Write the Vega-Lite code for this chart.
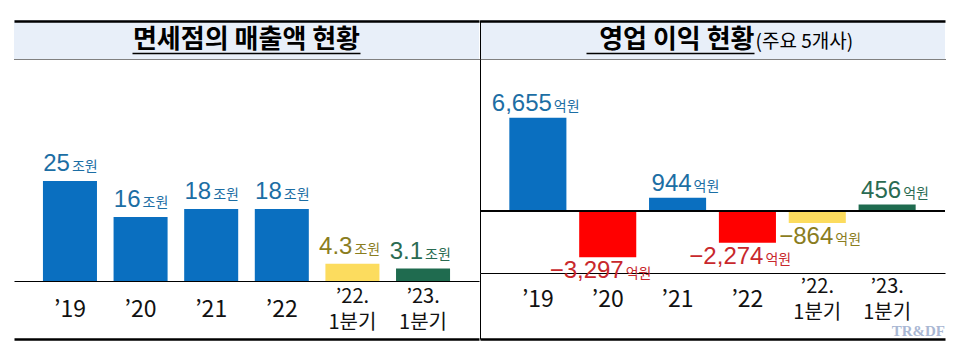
{
  "$schema": "https://vega.github.io/schema/vega-lite/v6.json",
  "background": "white",
  "padding": {"left": 14, "top": 20, "right": 13, "bottom": 14},
  "datasets": {
    "sales": [
      {"p": "’19", "v": 25, "s": "연간"},
      {"p": "’20", "v": 16, "s": "연간"},
      {"p": "’21", "v": 18, "s": "연간"},
      {"p": "’22", "v": 18, "s": "연간"},
      {"p": "’22.\n1분기", "v": 4.3, "s": "22년1분기"},
      {"p": "’23.\n1분기", "v": 3.1, "s": "23년1분기"}
    ],
    "profit": [
      {"p": "’19", "v": 6655, "s": "연간"},
      {"p": "’20", "v": -3297, "s": "연간"},
      {"p": "’21", "v": 944, "s": "연간"},
      {"p": "’22", "v": -2274, "s": "연간"},
      {"p": "’22.\n1분기", "v": -864, "s": "22년1분기"},
      {"p": "’23.\n1분기", "v": 456, "s": "23년1분기"}
    ]
  },
  "spacing": 0,
  "hconcat": [
    {
      "spacing": 0,
      "bounds": "flush",
      "vconcat": [
        {
          "width": 465,
          "height": 39,
          "view": {"fill": "#e8eff9", "stroke": null},
          "data": {"values": [{"t": "면세점의 매출액 현황"}]},
          "encoding": {
            "x": {"field": "t", "type": "nominal", "axis": {"orient": "top", "title": null, "labels": false, "ticks": false, "domainColor": "#000000", "domainWidth": 2.5, "offset": -1}},
            "y": {"field": "t", "type": "nominal", "axis": null}
          },
          "layer": [
            {"mark": {"type": "text", "font": "Noto Sans CJK KR", "fontWeight": "bold", "fontSize": 26, "color": "#000000", "baseline": "middle"}, "encoding": {"text": {"field": "t"}}},
            {"mark": {"type": "rule", "color": "#000000", "strokeWidth": 1.5, "xOffset": -114, "x2Offset": 114, "yOffset": 14}, "encoding": {"x2": {"field": "t"}}}
          ]
        },
        {
          "width": 465,
          "height": 222,
          "data": {"name": "sales"},
          "encoding": {
            "y": {"field": "v", "type": "quantitative", "scale": {"domain": [0, 55.5], "nice": false, "zero": false}, "axis": null}
          },
          "layer": [
            {
              "mark": {"type": "bar"},
              "encoding": {
                "x": {"field": "p", "type": "nominal", "sort": null, "scale": {"type": "band", "domain": ["’19", "’20", "’21", "’22", "’22.\n1분기", "’23.\n1분기"], "paddingInner": 0.235, "paddingOuter": 0.41}, "axis": {"orient": "top", "title": null, "labels": false, "ticks": false, "domainColor": "#000000", "domainWidth": 1, "domainDash": [1, 1]}},
                "color": {"field": "s", "type": "nominal", "scale": {"domain": ["연간", "22년1분기", "23년1분기"], "range": ["#0a6fc0", "#fcdc5e", "#1f6b4f"]}, "legend": null, "condition": {"test": "datum.v < 0 && datum.s === '연간'", "value": "#ff0000"}}
              }
            },
            {
              "mark": {"type": "text", "font": "Liberation Sans", "fontSize": 24, "align": "right", "baseline": "alphabetic", "dx": 0, "dy": -10},
              "encoding": {
                "x": {"field": "p", "type": "nominal", "sort": null, "scale": {"type": "band", "domain": ["’19", "’20", "’21", "’22", "’22.\n1분기", "’23.\n1분기"], "paddingInner": 0.235, "paddingOuter": 0.41}, "axis": {"orient": "bottom", "title": null, "labels": false, "ticks": false, "domainColor": "#000000", "domainWidth": 1.2}},
                "text": {"field": "v", "type": "quantitative", "format": ".2~f"},
                "color": {"condition": [{"test": "datum.s === '22년1분기'", "value": "#8a7d1e"}, {"test": "datum.s === '23년1분기'", "value": "#2a6b52"}, {"test": "datum.v < 0", "value": "#c8282c"}], "value": "#1c6ea4"}
              }
            },
            {
              "mark": {"type": "text", "text": "조원", "font": "Noto Sans CJK KR", "fontSize": 14, "align": "left", "baseline": "alphabetic", "dx": 2, "dy": -10},
              "encoding": {
                "x": {"field": "p", "type": "nominal", "sort": null, "scale": {"type": "band", "domain": ["’19", "’20", "’21", "’22", "’22.\n1분기", "’23.\n1분기"], "paddingInner": 0.235, "paddingOuter": 0.41}, "axis": null},
                "color": {"condition": [{"test": "datum.s === '22년1분기'", "value": "#8a7d1e"}, {"test": "datum.s === '23년1분기'", "value": "#2a6b52"}, {"test": "datum.v < 0", "value": "#c8282c"}], "value": "#1c6ea4"}
              }
            }
          ],
          "resolve": {"axis": {"x": "independent"}}
        },
        {
          "width": 465,
          "height": 58,
          "data": {"name": "sales"},
          "encoding": {
            "x": {"field": "p", "type": "nominal", "sort": null, "scale": {"type": "band", "domain": ["’19", "’20", "’21", "’22", "’22.\n1분기", "’23.\n1분기"], "paddingInner": 0.235, "paddingOuter": 0.41}, "axis": {"orient": "bottom", "title": null, "labels": false, "ticks": false, "domainColor": "#000000", "domainWidth": 2.5}},
            "text": {"field": "p"}
          },
          "layer": [
            {
              "transform": [{"filter": "indexof(datum.p, '\\n') < 0"}],
              "mark": {"type": "text", "font": "Liberation Sans Narrow, Noto Sans CJK KR", "fontSize": 23, "baseline": "middle", "color": "#111111"}
            },
            {
              "transform": [{"filter": "indexof(datum.p, '\\n') >= 0"}],
              "mark": {"type": "text", "font": "Liberation Sans Narrow, Noto Sans CJK KR", "fontSize": 20, "lineBreak": "\n", "lineHeight": 26, "baseline": "middle", "dy": -13, "color": "#111111"}
            }
          ]
        }
      ]
    },
    {
      "spacing": 0,
      "bounds": "flush",
      "vconcat": [
        {
          "width": 465,
          "height": 39,
          "view": {"fill": "#e8eff9", "stroke": null},
          "data": {"values": [{"t": "영업 이익 현황", "sub": "(주요 5개사)"}]},
          "encoding": {
            "x": {"field": "t", "type": "nominal", "axis": {"orient": "top", "title": null, "labels": false, "ticks": false, "domainColor": "#000000", "domainWidth": 2.5, "offset": -1}},
            "y": {"field": "t", "type": "nominal", "axis": {"orient": "left", "title": null, "labels": false, "ticks": false, "domainColor": "#000000", "domainWidth": 1}}
          },
          "layer": [
            {"mark": {"type": "text", "font": "Noto Sans CJK KR", "fontWeight": "bold", "fontSize": 26, "color": "#000000", "align": "right", "dx": 42, "baseline": "middle"}, "encoding": {"text": {"field": "t"}}},
            {"mark": {"type": "text", "font": "Noto Sans CJK KR", "fontSize": 19, "color": "#000000", "align": "left", "dx": 43, "dy": 2, "baseline": "middle"}, "encoding": {"text": {"field": "sub"}}},
            {"mark": {"type": "rule", "color": "#000000", "strokeWidth": 1.5, "xOffset": -126, "x2Offset": 42, "yOffset": 14}, "encoding": {"x2": {"field": "t"}}}
          ]
        },
        {
          "width": 465,
          "height": 214,
          "data": {"name": "profit"},
          "encoding": {
            "y": {"field": "v", "type": "quantitative", "scale": {"domain": [-4429, 10857], "nice": false, "zero": false}, "axis": {"orient": "left", "title": null, "labels": false, "ticks": false, "grid": false, "domainColor": "#000000", "domainWidth": 1}}
          },
          "layer": [
            {
              "mark": {"type": "bar"},
              "encoding": {
                "x": {"field": "p", "type": "nominal", "sort": null, "scale": {"type": "band", "domain": ["’19", "’20", "’21", "’22", "’22.\n1분기", "’23.\n1분기"], "paddingInner": 0.183, "paddingOuter": 0.42}, "axis": {"orient": "top", "title": null, "labels": false, "ticks": false, "domainColor": "#000000", "domainWidth": 1, "domainDash": [1, 1]}},
                "color": {"field": "s", "type": "nominal", "scale": {"domain": ["연간", "22년1분기", "23년1분기"], "range": ["#0a6fc0", "#fcdc5e", "#1f6b4f"]}, "legend": null, "condition": {"test": "datum.v < 0 && datum.s === '연간'", "value": "#ff0000"}}
              }
            },
            {
              "mark": {"type": "rule", "color": "#000000", "strokeWidth": 1.2},
              "encoding": {"y": {"datum": 0}}
            },
            {
              "transform": [{"filter": "datum.v >= 0"}],
              "mark": {"type": "text", "font": "Liberation Sans", "fontSize": 24, "align": "right", "baseline": "alphabetic", "dx": 14, "dy": -7},
              "encoding": {
                "x": {"field": "p", "type": "nominal", "sort": null, "scale": {"type": "band", "domain": ["’19", "’20", "’21", "’22", "’22.\n1분기", "’23.\n1분기"], "paddingInner": 0.183, "paddingOuter": 0.42}, "axis": {"orient": "bottom", "title": null, "labels": false, "ticks": false, "domainColor": "#000000", "domainWidth": 1.2}},
                "text": {"field": "v", "type": "quantitative", "format": ","},
                "color": {"condition": [{"test": "datum.s === '22년1분기'", "value": "#8a7d1e"}, {"test": "datum.s === '23년1분기'", "value": "#2a6b52"}, {"test": "datum.v < 0", "value": "#c8282c"}], "value": "#1c6ea4"}
              }
            },
            {
              "transform": [{"filter": "datum.v >= 0"}],
              "mark": {"type": "text", "text": "억원", "font": "Noto Sans CJK KR", "fontSize": 14, "align": "left", "baseline": "alphabetic", "dx": 16, "dy": -7},
              "encoding": {
                "x": {"field": "p", "type": "nominal", "sort": null, "scale": {"type": "band", "domain": ["’19", "’20", "’21", "’22", "’22.\n1분기", "’23.\n1분기"], "paddingInner": 0.183, "paddingOuter": 0.42}, "axis": null},
                "color": {"condition": [{"test": "datum.s === '22년1분기'", "value": "#8a7d1e"}, {"test": "datum.s === '23년1분기'", "value": "#2a6b52"}, {"test": "datum.v < 0", "value": "#c8282c"}], "value": "#1c6ea4"}
              }
            },
            {
              "transform": [{"filter": "datum.v < 0"}],
              "mark": {"type": "text", "font": "Liberation Sans", "fontSize": 24, "align": "right", "baseline": "alphabetic", "dx": 16, "dy": 21},
              "encoding": {
                "x": {"field": "p", "type": "nominal", "sort": null, "scale": {"type": "band", "domain": ["’19", "’20", "’21", "’22", "’22.\n1분기", "’23.\n1분기"], "paddingInner": 0.183, "paddingOuter": 0.42}, "axis": null},
                "text": {"field": "v", "type": "quantitative", "format": ","},
                "color": {"condition": [{"test": "datum.s === '22년1분기'", "value": "#8a7d1e"}, {"test": "datum.s === '23년1분기'", "value": "#2a6b52"}, {"test": "datum.v < 0", "value": "#c8282c"}], "value": "#1c6ea4"}
              }
            },
            {
              "transform": [{"filter": "datum.v < 0"}],
              "mark": {"type": "text", "text": "억원", "font": "Noto Sans CJK KR", "fontSize": 14, "align": "left", "baseline": "alphabetic", "dx": 18, "dy": 21},
              "encoding": {
                "x": {"field": "p", "type": "nominal", "sort": null, "scale": {"type": "band", "domain": ["’19", "’20", "’21", "’22", "’22.\n1분기", "’23.\n1분기"], "paddingInner": 0.183, "paddingOuter": 0.42}, "axis": null},
                "color": {"condition": [{"test": "datum.s === '22년1분기'", "value": "#8a7d1e"}, {"test": "datum.s === '23년1분기'", "value": "#2a6b52"}, {"test": "datum.v < 0", "value": "#c8282c"}], "value": "#1c6ea4"}
              }
            }
          ],
          "resolve": {"axis": {"x": "independent"}}
        },
        {
          "width": 465,
          "height": 66,
          "data": {"name": "profit"},
          "title": {"text": "TR&DF", "orient": "bottom", "anchor": "end", "offset": -15, "font": "Liberation Serif", "fontSize": 15, "fontWeight": "bold", "color": "#a9b7d3", "baseline": "top"},
          "encoding": {
            "x": {"field": "p", "type": "nominal", "sort": null, "scale": {"type": "band", "domain": ["’19", "’20", "’21", "’22", "’22.\n1분기", "’23.\n1분기"], "paddingInner": 0.183, "paddingOuter": 0.42}, "axis": {"orient": "bottom", "title": null, "labels": false, "ticks": false, "domainColor": "#000000", "domainWidth": 2.5}},
            "y": {"datum": "a", "type": "nominal", "axis": {"orient": "left", "title": null, "labels": false, "ticks": false, "domainColor": "#000000", "domainWidth": 1}},
            "text": {"field": "p"}
          },
          "layer": [
            {
              "transform": [{"filter": "indexof(datum.p, '\\n') < 0"}],
              "mark": {"type": "text", "font": "Liberation Sans Narrow, Noto Sans CJK KR", "fontSize": 23, "baseline": "middle", "dy": -6, "color": "#111111"}
            },
            {
              "transform": [{"filter": "indexof(datum.p, '\\n') >= 0"}],
              "mark": {"type": "text", "font": "Liberation Sans Narrow, Noto Sans CJK KR", "fontSize": 20, "lineBreak": "\n", "lineHeight": 26, "baseline": "middle", "dy": -19, "color": "#111111"}
            }
          ]
        }
      ]
    }
  ],
  "config": {
    "view": {"stroke": null},
    "axis": {"grid": false, "domainCap": "butt"}
  }
}
